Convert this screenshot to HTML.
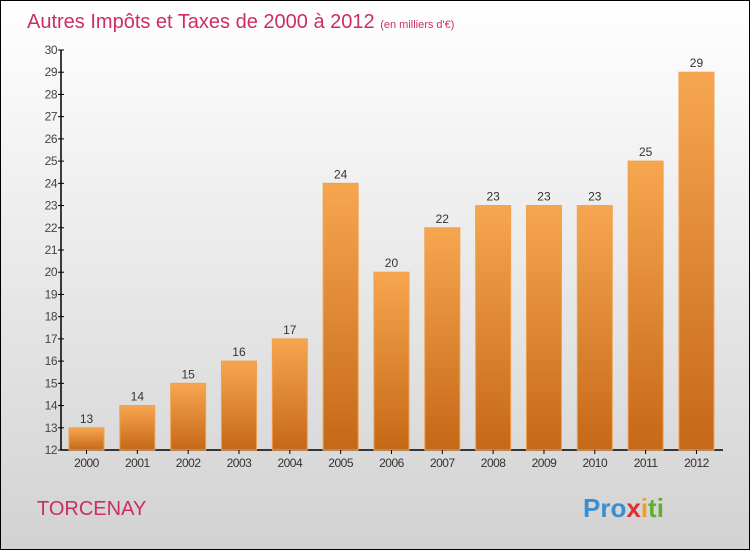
<!DOCTYPE html>
<html><head><meta charset="utf-8"><style>
body{margin:0}
#c{width:748px;height:548px;border:1px solid #000;background:linear-gradient(#ffffff,#d2d2d2);position:relative;font-family:"Liberation Sans",sans-serif;overflow:hidden}
</style></head><body>
<div id="c">
<svg width="748" height="548" style="position:absolute;left:0;top:0" id="svg">
<defs><linearGradient id="bg" x1="0" y1="0" x2="0" y2="1"><stop offset="0" stop-color="#f7a650"/><stop offset="1" stop-color="#c56818"/></linearGradient></defs>
<text x="26" y="27" font-size="20" fill="#cc2e62">Autres Impôts et Taxes de 2000 à 2012 <tspan font-size="11">(en milliers d'€)</tspan></text>
<text x="36" y="514" font-size="20" fill="#cc2e62">TORCENAY</text>
<text x="582" y="516" font-size="26" font-weight="bold"><tspan fill="#3a8fd0">Pro</tspan><tspan fill="#e03030">x</tspan><tspan fill="#f0a020">i</tspan><tspan fill="#60b030">ti</tspan></text>
<g id="plot"></g>
</svg>
</div>
<script>
const categories=["2000","2001","2002","2003","2004","2005","2006","2007","2008","2009","2010","2011","2012"];
const values=[13,14,15,16,17,24,20,22,23,23,23,25,29];
const yTicks=[12,13,14,15,16,17,18,19,20,21,22,23,24,25,26,27,28,29,30];
const NS="http://www.w3.org/2000/svg";
const g=document.getElementById('plot');
const yMin=12,yMax=30,top0=49,bot=449;
const y=v=>bot-(v-yMin)/(yMax-yMin)*(bot-top0);
const x=i=>85.5+i*50.83;
function mk(t,a){const e=document.createElementNS(NS,t);for(const k in a)e.setAttribute(k,a[k]);g.appendChild(e);return e;}
let ax=mk('line',{x1:60,y1:top0,x2:60,y2:bot,stroke:'#000','stroke-width':1.5});


let bx=mk('line',{x1:60,y1:bot,x2:722,y2:bot,stroke:'#000','stroke-width':1.5});


yTicks.forEach(t=>{
 mk('line',{x1:57,x2:63,y1:y(t),y2:y(t),stroke:'#000'});
 const tx=mk('text',{x:56,y:y(t)+4,'font-size':12,'text-anchor':'end',fill:'#444','letter-spacing':'-0.5'});
 tx.textContent=t;
 
 
});
categories.forEach((c,i)=>{
 const r=mk('rect',{x:x(i)-17.5,y:y(values[i]),width:35,height:bot-y(values[i]),fill:'url(#bg)',stroke:'#f0a050','stroke-width':1});
 
 
 mk('line',{x1:x(i),x2:x(i),y1:bot,y2:bot+4,stroke:'#000'});
 const l=mk('text',{x:x(i),y:y(values[i])-5,'font-size':12,'text-anchor':'middle',fill:'#333'});
 l.textContent=values[i];
 
 
 const xl=mk('text',{x:x(i),y:466,'font-size':12,'text-anchor':'middle',fill:'#333','letter-spacing':'-0.5'});
 xl.textContent=c;
 
 
});
</script>
</body></html>
